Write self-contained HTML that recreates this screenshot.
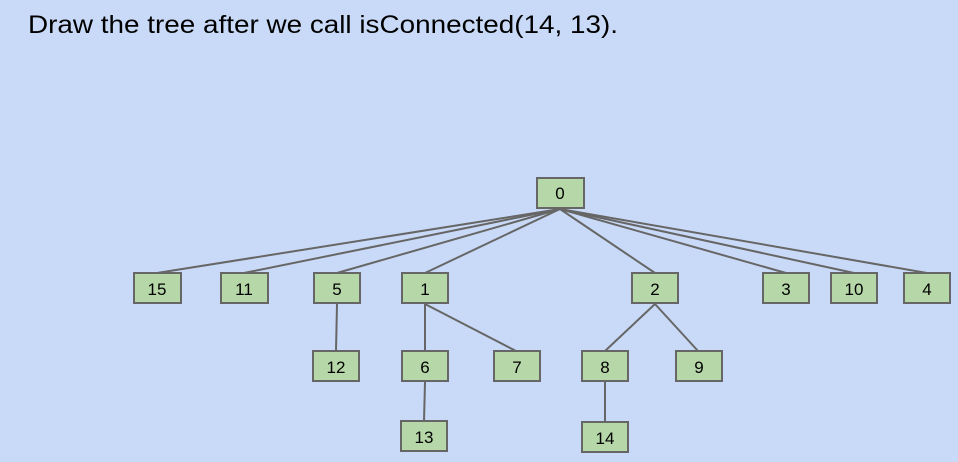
<!DOCTYPE html>
<html><head><style>
html,body{margin:0;padding:0;background:#c9daf8;}
body{width:958px;height:462px;overflow:hidden;position:relative;}
</style></head><body>
<svg width="958" height="462" xmlns="http://www.w3.org/2000/svg" style="position:absolute;left:0;top:0">
<text x="28" y="33" font-family="Liberation Sans, sans-serif" font-size="25" fill="#000" textLength="590" lengthAdjust="spacingAndGlyphs">Draw the tree after we call isConnected(14, 13).</text>
<g stroke="#666" stroke-width="2" fill="none">
<line x1="560" y1="209" x2="157" y2="273"/>
<line x1="560" y1="209" x2="244" y2="273"/>
<line x1="560" y1="209" x2="337" y2="273"/>
<line x1="560" y1="209" x2="425" y2="273"/>
<line x1="560" y1="209" x2="655" y2="273"/>
<line x1="560" y1="209" x2="786" y2="273"/>
<line x1="560" y1="209" x2="854" y2="273"/>
<line x1="560" y1="209" x2="927" y2="273"/>
<line x1="337" y1="304" x2="336" y2="351"/>
<line x1="425" y1="304" x2="425" y2="351"/>
<line x1="425" y1="304" x2="516" y2="351"/>
<line x1="425" y1="382" x2="424" y2="421"/>
<line x1="655" y1="304" x2="605" y2="351"/>
<line x1="655" y1="304" x2="698" y2="351"/>
<line x1="605" y1="382" x2="605" y2="422"/>
</g>
<g fill="#b6d7a8" stroke="#666" stroke-width="2">
<rect x="537" y="178" width="47" height="30"/>
<rect x="134" y="273" width="47" height="30"/>
<rect x="221" y="273" width="47" height="30"/>
<rect x="314" y="273" width="46" height="30"/>
<rect x="402" y="273" width="46" height="30"/>
<rect x="632" y="273" width="46" height="30"/>
<rect x="763" y="273" width="46" height="30"/>
<rect x="831" y="273" width="46" height="30"/>
<rect x="904" y="273" width="46" height="30"/>
<rect x="313" y="351" width="46" height="30"/>
<rect x="402" y="351" width="46" height="30"/>
<rect x="494" y="351" width="46" height="30"/>
<rect x="582" y="351" width="46" height="30"/>
<rect x="676" y="351" width="46" height="30"/>
<rect x="401" y="421" width="46" height="30"/>
<rect x="582" y="422" width="46" height="30"/>
</g>
<g font-family="Liberation Sans, sans-serif" font-size="17" fill="#000" text-anchor="middle">
<text x="560" y="199">0</text>
<text x="157" y="295">15</text>
<text x="244" y="295">11</text>
<text x="337" y="295">5</text>
<text x="425" y="295">1</text>
<text x="655" y="295">2</text>
<text x="786" y="295">3</text>
<text x="854" y="295">10</text>
<text x="927" y="295">4</text>
<text x="336" y="373">12</text>
<text x="425" y="373">6</text>
<text x="517" y="373">7</text>
<text x="605" y="373">8</text>
<text x="699" y="373">9</text>
<text x="424" y="443">13</text>
<text x="605" y="444">14</text>
</g>
</svg>
</body></html>
